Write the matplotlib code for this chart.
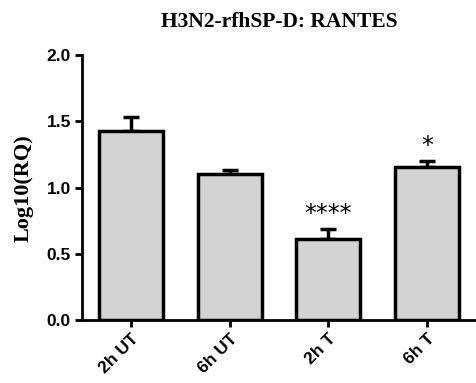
import matplotlib
matplotlib.use("Agg")
from matplotlib import pyplot as plt

groups = ["2h UT", "6h UT", "2h T", "6h T"]
means = [1.43, 1.10, 0.615, 1.155]
errs = [0.10, 0.035, 0.075, 0.05]
stars = ["", "", "****", "*"]

fig = plt.figure(figsize=(4.77, 3.83), dpi=100)
ax = fig.add_axes([0.172, 0.164, 0.826, 0.692])

x = list(range(len(groups)))
ax.bar(x, means, width=0.65, color="#d3d3d3", edgecolor="black", linewidth=2.5, zorder=2)
ax.errorbar(x, means, yerr=[[0] * len(errs), errs], fmt="none", ecolor="black",
            elinewidth=2.5, capsize=6, capthick=2.5, zorder=1)

for xi, m, e, s in zip(x, means, errs, stars):
    if s:
        ax.text(xi, m + e + 0.02, s, ha="center", va="bottom", fontsize=17,
                family="DejaVu Sans")

ax.set_xlim(-0.5, 3.5)
ax.set_ylim(0, 2.0)
ax.set_yticks([0.0, 0.5, 1.0, 1.5, 2.0])
ax.set_yticklabels(["0.0", "0.5", "1.0", "1.5", "2.0"])
ax.set_xticks(x)
ax.set_xticklabels(groups, rotation=45, ha="right", rotation_mode="anchor")

for lab in ax.get_xticklabels() + ax.get_yticklabels():
    lab.set_family("Liberation Sans")
    lab.set_fontweight("bold")
    lab.set_fontsize(12.5)

ax.spines["top"].set_visible(False)
ax.spines["right"].set_visible(False)
ax.spines["left"].set_linewidth(2)
ax.spines["bottom"].set_linewidth(2)
ax.tick_params(direction="out", width=2, length=5, pad=3)

ax.set_ylabel("Log10(RQ)", family="Liberation Serif", fontweight="bold", fontsize=16, labelpad=9)
ax.set_title("H3N2-rfhSP-D: RANTES", family="Liberation Serif", fontweight="bold",
             fontsize=15.5, pad=20, x=0.5)

fig.savefig("out.png", dpi=100)
